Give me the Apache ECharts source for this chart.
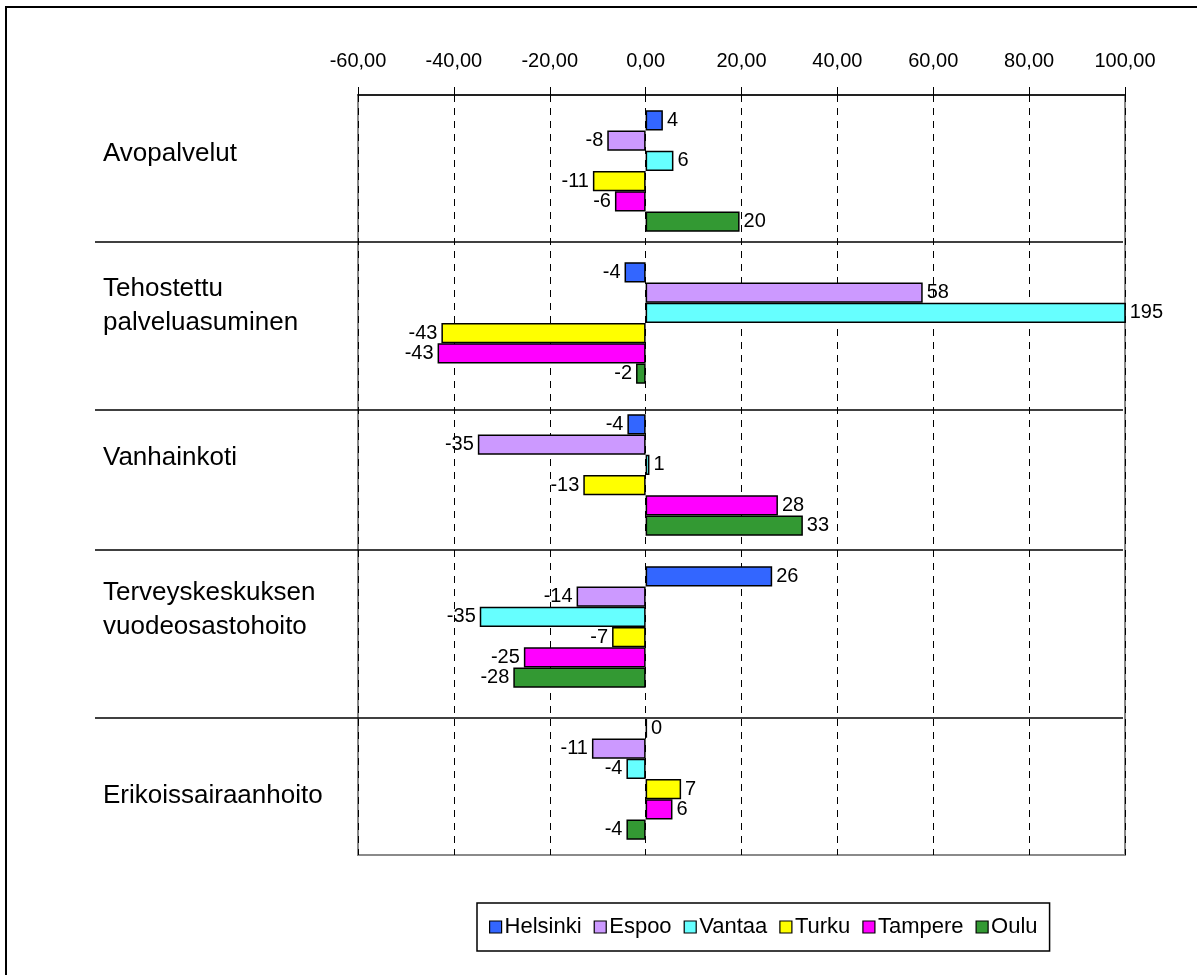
<!DOCTYPE html>
<html>
<head>
<meta charset="utf-8">
<script src="https://cdn.jsdelivr.net/npm/echarts@6/dist/echarts.min.js"></script>
<style>
html,body{margin:0;padding:0;background:#fff;}
#chart{width:1197px;height:975px;}
</style>
</head>
<body>
<div id="chart"></div>
<script>
const categories = ['Avopalvelut', 'Tehostettu\npalveluasuminen', 'Vanhainkoti', 'Terveyskeskuksen\nvuodeosastohoito', 'Erikoissairaanhoito'];
const seriesNames = ['Helsinki', 'Espoo', 'Vantaa', 'Turku', 'Tampere', 'Oulu'];
const seriesColors = ['#3366FF', '#CC99FF', '#66FFFF', '#FFFF00', '#FF00FF', '#339933'];
const helsinki = [3.6, -4.4, -3.8, 26.4, 0.3];
const espoo    = [-8.0, 57.8, -35.0, -14.4, -11.2];
const vantaa   = [5.8, 195, 0.8, -34.6, -4.0];
const turku    = [-11.0, -42.6, -13.0, -7.0, 7.4];
const tampere  = [-6.4, -43.4, 27.6, -25.4, 5.6];
const oulu     = [19.6, -2.0, 32.8, -27.6, -4.0];
const xTicks = { min: -60, max: 100, interval: 20 };
// label sits above (true) or below (false) the category centre
const labelAbove = [true, true, true, true, false];

const values = [helsinki, espoo, vantaa, turku, tampere, oulu];
const FONT = '"Liberation Sans", Arial, sans-serif';

const chart = echarts.init(document.getElementById('chart'), null, {renderer: 'canvas'});

const series = seriesNames.map((name, i) => ({
  name: name,
  type: 'bar',
  barGap: '0%',
  barCategoryGap: '20%',
  itemStyle: { color: seriesColors[i], borderColor: '#000', borderWidth: 1.5 },
  label: {
    show: true,
    color: '#000',
    fontFamily: FONT,
    fontSize: 20,
    distance: 4,
    formatter: p => String(Math.round(p.value))
  },
  data: values[i].map(v => ({ value: v, label: { position: v < 0 ? 'left' : 'right' } }))
}));

const sepY = [242, 410, 550, 718];

chart.setOption({
  animation: false,
  textStyle: { fontFamily: FONT },
  grid: { left: 358, right: 72, top: 95, bottom: 120, containLabel: false, outerBoundsMode: 'none', show: true, borderColor: '#8a8a8a', borderWidth: 2, backgroundColor: 'transparent' },
  legend: {
    data: seriesNames,
    left: 477,
    top: 903,
    padding: [13, 12, 13, 12],
    borderColor: '#000',
    borderWidth: 1.5,
    itemWidth: 12,
    itemHeight: 12,
    itemGap: 12,
    icon: 'rect',
    itemStyle: { borderColor: '#000', borderWidth: 1.2 },
    textStyle: { fontFamily: FONT, fontSize: 22, color: '#000', padding: [0,0,0,-2] }
  },
  xAxis: {
    type: 'value',
    position: 'top',
    min: xTicks.min,
    max: xTicks.max,
    interval: xTicks.interval,
    axisLine: { show: true, lineStyle: { color: '#000', width: 1.5 } },
    axisTick: { show: true, length: 8, lineStyle: { color: '#000', width: 1 } },
    axisLabel: { color: '#000', fontSize: 20, fontFamily: FONT, margin: 24, formatter: v => v.toFixed(2).replace('.', ',') },
    splitLine: { show: true, lineStyle: { color: '#000', width: 1, type: [7, 6] } }
  },
  yAxis: {
    type: 'category',
    inverse: true,
    data: categories,
    axisLine: { show: false },
    axisTick: { show: false },
    axisLabel: {
      color: '#000', fontSize: 26, fontFamily: FONT, align: 'left', margin: 255, lineHeight: 34,
      formatter: (v, i) => labelAbove[i] ? v + '\n ' : ' \n' + v
    },
    splitLine: { show: false }
  },
  series: series,
  graphic: [
    { type: 'rect', shape: { x: 6, y: 7, width: 1400, height: 1200 }, style: { fill: 'none', stroke: '#000', lineWidth: 2 }, silent: true, z: 100 }
  ].concat(sepY.map(y => ({
    type: 'line', shape: { x1: 95, y1: y, x2: 1123, y2: y }, style: { stroke: '#000', lineWidth: 1.5 }, silent: true, z: 50
  })))
});
</script>
</body>
</html>
